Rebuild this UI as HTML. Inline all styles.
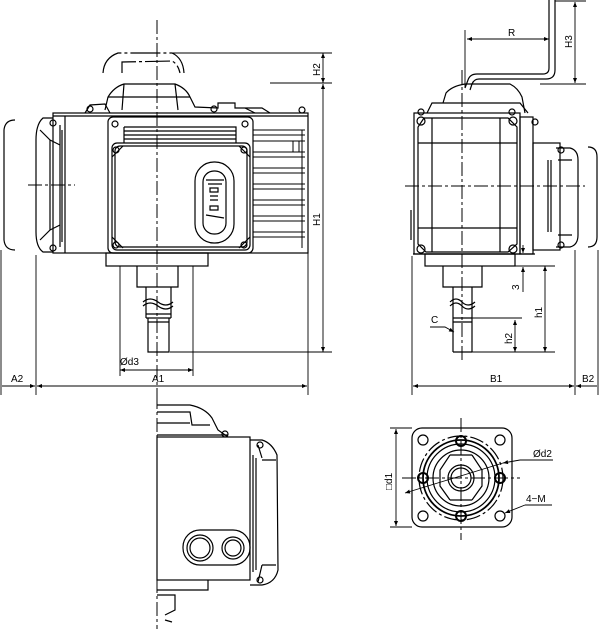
<!DOCTYPE html>
<html><head><meta charset="utf-8"><style>
html,body{margin:0;padding:0;background:#fff}
svg{display:block}
text{font-family:"Liberation Sans",sans-serif;font-size:10px;fill:#000}
</style></head><body>
<svg width="600" height="629" viewBox="0 0 600 629" xmlns="http://www.w3.org/2000/svg">
<defs>
<marker id="a" viewBox="0 0 10 10" refX="10" refY="5" markerWidth="7" markerHeight="5" orient="auto-start-reverse" markerUnits="userSpaceOnUse"><path d="M0,1 L10,5 L0,9 z" fill="#000"/></marker>
</defs>
<g fill="none" stroke="#000" stroke-width="1.2">
<path d="M103,73 Q104,58 118,53 L172,53 Q183,58 184,73" stroke-dasharray="30,3,3,3"/>
<path d="M122,73 L122,62 L172,61 Q178,64 180,73" stroke-dasharray="25,3,3,3"/>
<path d="M105,110 L108,97 Q114,87 124,84 L175,84 Q186,88 190,97 L195,107 L218,108 L218,103 L235,103 L235,108 L262,108 L270,113"/>
<path d="M124,84 L122,110 M175,84 L178,110 M108,97 L190,97"/>
<path d="M85,113 L90,105 L105,104 L110,113 M245,108 L255,113"/>
<circle cx="90" cy="109" r="3"/><circle cx="214" cy="109" r="3"/><circle cx="302" cy="110" r="3"/>
<rect x="53" y="113" width="255" height="140"/>
<line x1="53" y1="116" x2="308" y2="116"/>
<line x1="65" y1="116" x2="65" y2="253"/>
<path d="M53,118 L43,118 Q36,124 36,140 L36,232 Q36,247 43,252 L53,252"/>
<path d="M40,130 L50,140 L50,230 L40,240 M50,140 L60,145 M50,230 L60,225"/>
<line x1="60" y1="125" x2="60" y2="247"/>
<line x1="62" y1="130" x2="62" y2="242"/>
<circle cx="53" cy="123" r="3"/><circle cx="53" cy="248" r="3"/>
<path d="M15,120 Q5,120 4,130 L4,240 Q5,250 15,250" />
<rect x="108" y="117" width="145" height="136" rx="5"/>
<rect x="112" y="143" width="138" height="107" rx="5"/>
<rect x="115" y="146" width="132" height="101" rx="5"/>
<path d="M124,127 L236,127 L236,143 M124,127 L124,143 M124,131 L236,131 M124,135 L236,135 M124,139 L236,139"/>
<circle cx="115" cy="124" r="3"/><circle cx="245" cy="124" r="3"/>
<circle cx="116" cy="150" r="3"/><circle cx="244" cy="150" r="3"/>
<circle cx="116" cy="245" r="3"/><circle cx="244" cy="245" r="3"/>
<path d="M112,157 L123,146 M250,157 L239,146 M112,237 L123,248 M250,237 L239,248"/>
<rect x="195" y="162" width="39" height="81" rx="19"/>
<rect x="203" y="171" width="23" height="63" rx="11"/>
<path d="M206,180 L224,180 M208,184 L222,184 M210,188 L218,188 L218,192 L210,192 z M210,196 L218,196 M210,200 L218,200 M210,206 L218,206 L218,210 L210,210 z M206,215 L224,218"/>
<g stroke-width="1">
<path d="M253,130 L305,130 M253,135 L305,135 M253,141 L305,141 M253,152 L305,152 M253,157 L305,157 M253,168 L305,168 M253,173 L305,173 M253,184 L305,184 M253,189 L305,189 M253,200 L305,200 M253,205 L305,205 M253,216 L305,216 M253,221 L305,221 M253,232 L305,232 M253,237 L305,237"/>
<path d="M293,141 L293,152 M299,141 L299,152 M302,130 L302,248"/>
</g>
<rect x="106" y="253" width="102" height="13"/>
<path d="M137,266 L137,287 L178,287 L178,266"/>
<path d="M146,287 L146,318 M171,287 L171,318"/>
<path d="M143,302 Q150,296 158,302 Q166,308 173,302 M143,306 Q150,300 158,306 Q166,312 173,306"/>
<path d="M146,314 L171,314 M146,318 L171,318 M148,322 L169,322 M148,318 L148,352 L169,352 L169,318"/>
<path d="M549,0 L549,68 Q549,74 543,74 L477,74 Q470,74 468,80 L465,88"/>
<path d="M555,0 L555,70 Q555,79 546,79 L479,79 Q474,79 472,84 L470,90"/>
<path d="M443,103 L446,93 Q452,86 465,84 L510,84 Q518,88 522,97 L525,113"/>
<path d="M427,113 L432,103 L520,103 L528,113"/>
<circle cx="421" cy="112" r="3"/><circle cx="512" cy="112" r="3"/>
<rect x="414" y="113" width="106" height="141"/>
<path d="M424,118 L508,118 L517,127 L517,244 L508,252 L426,252 L418,244 L418,127 z"/>
<path d="M418,143 L517,143 M418,228 L517,228 M432,118 L432,252 M500,118 L500,252"/>
<circle cx="421" cy="121" r="4"/><circle cx="513" cy="121" r="4"/><circle cx="421" cy="249" r="4"/><circle cx="513" cy="249" r="4"/>
<rect x="520" y="117" width="13" height="137"/>
<circle cx="535" cy="122" r="3"/>
<rect x="533" y="143" width="27" height="107"/>
<path d="M556,148 L570,148 Q578,150 578,160 L578,235 Q578,245 570,247 L556,247"/>
<path d="M558,160 L572,160 M558,235 L572,235 M548,160 L548,232 M551,160 L551,232"/>
<circle cx="561" cy="150" r="3"/><circle cx="561" cy="245" r="3"/>
<path d="M588,147 Q597,147 597,157 L597,237 Q597,247 588,247"/>
<path d="M411,210 L411,240"/>
<rect x="425" y="254" width="90" height="12"/>
<line x1="413" y1="254" x2="535" y2="254"/>
<path d="M443,266 L443,287 L482,287 L482,266"/>
<path d="M453,287 L453,352 M472,287 L472,352 M453,318 L472,318 M453,322 L472,322"/>
<path d="M450,302 Q456,296 462,302 Q468,308 475,302 M450,306 Q456,300 462,306 Q468,312 475,306"/>
<path d="M453,352 L472,352"/>
<path d="M157,405 L190,405 Q205,408 212,418 L218,430 L228,437"/>
<path d="M157,412 L190,412 L192,425 L210,425 M157,423 L190,423 M157,435 L228,435"/>
<circle cx="225" cy="434" r="3"/>
<rect x="157" y="437" width="93" height="143"/>
<path d="M250,440 L262,440 Q272,443 277,455 L278,570 Q275,583 262,585 L250,585"/>
<path d="M253,455 L253,572 M256,458 L256,570 M262,460 L276,460 M262,565 L276,565 M258,445 L262,458 M258,582 L262,565"/>
<circle cx="260" cy="445" r="3"/><circle cx="260" cy="580" r="3"/>
<rect x="183" y="530" width="67" height="35" rx="17"/>
<circle cx="200" cy="548" r="13"/><circle cx="200" cy="548" r="10"/>
<circle cx="233" cy="548" r="11"/><circle cx="233" cy="548" r="8"/>
<path d="M157,590 L208,590 L208,580 M157,595 L175,595 L175,610 L165,615 M165,620 L172,622"/>
<rect x="412" y="428" width="100" height="99" rx="10"/>
<circle cx="461" cy="478" r="42" stroke-dasharray="14,3,3,3"/>
<circle cx="461" cy="478" r="38" stroke-width="1.8"/>
<circle cx="461" cy="478" r="34"/>
<circle cx="461" cy="478" r="28"/>
<circle cx="461" cy="478" r="13"/><circle cx="461" cy="478" r="10"/>
<path d="M450,455 L440,470 L440,486 L450,500 M472,455 L482,470 L482,486 L472,500 M450,455 L472,455 M450,500 L472,500"/>
<circle cx="423" cy="440" r="5"/><circle cx="500" cy="440" r="5"/><circle cx="423" cy="516" r="5"/><circle cx="500" cy="516" r="5"/>
<circle cx="461" cy="441" r="5" stroke-width="2"/><circle cx="461" cy="516" r="5" stroke-width="2"/><circle cx="423" cy="478" r="5" stroke-width="2"/><circle cx="500" cy="478" r="5" stroke-width="2"/>
</g>
<g fill="none" stroke="#000" stroke-width="1" stroke-dasharray="14,3,3,3">
<line x1="157" y1="20" x2="157" y2="400"/>
<line x1="157" y1="395" x2="157" y2="629"/>
<line x1="28" y1="185" x2="75" y2="185"/>
<line x1="462" y1="70" x2="462" y2="360"/>
<line x1="405" y1="186" x2="585" y2="186"/>
<line x1="461" y1="418" x2="461" y2="540"/>
<line x1="402" y1="478" x2="520" y2="478"/>
</g>
<g fill="none" stroke="#000" stroke-width="0.9">
<line x1="172" y1="53" x2="332" y2="53"/>
<line x1="270" y1="83" x2="332" y2="83"/>
<line x1="170" y1="352" x2="332" y2="352"/>
<line x1="323" y1="53" x2="323" y2="83" marker-start="url(#a)" marker-end="url(#a)"/>
<line x1="323" y1="84" x2="323" y2="352" marker-start="url(#a)" marker-end="url(#a)"/>
<line x1="120" y1="266" x2="120" y2="376"/><line x1="193" y1="266" x2="193" y2="376"/>
<line x1="120" y1="370" x2="193" y2="370" marker-start="url(#a)" marker-end="url(#a)"/>
<line x1="36" y1="255" x2="36" y2="395"/><line x1="308" y1="253" x2="308" y2="395"/>
<line x1="1" y1="250" x2="1" y2="395"/>
<line x1="37" y1="386" x2="307" y2="386" marker-start="url(#a)" marker-end="url(#a)"/>
<line x1="2" y1="386" x2="35" y2="386" marker-end="url(#a)"/>
<line x1="465" y1="30" x2="465" y2="88"/>
<line x1="467" y1="39" x2="549" y2="39" marker-start="url(#a)" marker-end="url(#a)"/>
<line x1="555" y1="1" x2="586" y2="1"/>
<line x1="540" y1="84" x2="586" y2="84"/>
<line x1="575" y1="2" x2="575" y2="83" marker-start="url(#a)" marker-end="url(#a)"/>
<line x1="470" y1="318" x2="522" y2="318"/>
<line x1="472" y1="352" x2="555" y2="352"/>
<line x1="515" y1="320" x2="515" y2="352" marker-start="url(#a)" marker-end="url(#a)"/>
<line x1="500" y1="266" x2="555" y2="266"/>
<line x1="545" y1="266" x2="545" y2="352" marker-start="url(#a)" marker-end="url(#a)"/>
<line x1="523" y1="245" x2="523" y2="253" marker-end="url(#a)"/>
<line x1="523" y1="292" x2="523" y2="267" marker-end="url(#a)"/>
<line x1="412" y1="256" x2="412" y2="395"/>
<line x1="575" y1="250" x2="575" y2="395"/>
<line x1="598" y1="250" x2="598" y2="395"/>
<line x1="413" y1="386" x2="574" y2="386" marker-start="url(#a)" marker-end="url(#a)"/>
<line x1="576" y1="386" x2="597" y2="386" marker-start="url(#a)"/>
<path d="M430,327 L445,327 L454,332" marker-end="url(#a)"/>
<line x1="390" y1="428" x2="412" y2="428"/>
<line x1="390" y1="527" x2="412" y2="527"/>
<line x1="396" y1="429" x2="396" y2="526" marker-start="url(#a)" marker-end="url(#a)"/>
<line x1="553" y1="460" x2="520" y2="460"/>
<line x1="520" y1="460" x2="503" y2="463" marker-end="url(#a)"/>
<line x1="503" y1="463" x2="405" y2="493" marker-end="url(#a)"/>
<line x1="552" y1="505" x2="525" y2="505"/>
<line x1="525" y1="505" x2="505" y2="513" marker-end="url(#a)"/>
</g>
<text x="120" y="365" font-size="10">Ød3</text>
<text x="152" y="382">A1</text>
<text x="11" y="382">A2</text>
<text x="490" y="382">B1</text>
<text x="582" y="382">B2</text>
<text x="508" y="36">R</text>
<text x="431" y="323">C</text>
<text transform="translate(320,76) rotate(-90)">H2</text>
<text transform="translate(320,226) rotate(-90)">H1</text>
<text transform="translate(572,48) rotate(-90)">H3</text>
<text transform="translate(542,318) rotate(-90)">h1</text>
<text transform="translate(512,344) rotate(-90)">h2</text>
<text transform="translate(519,290) rotate(-90)">3</text>
<text transform="translate(392,490) rotate(-90)">□d1</text>
<text x="533" y="457">Ød2</text>
<text x="526" y="502">4−M</text>
</svg>
</body></html>
